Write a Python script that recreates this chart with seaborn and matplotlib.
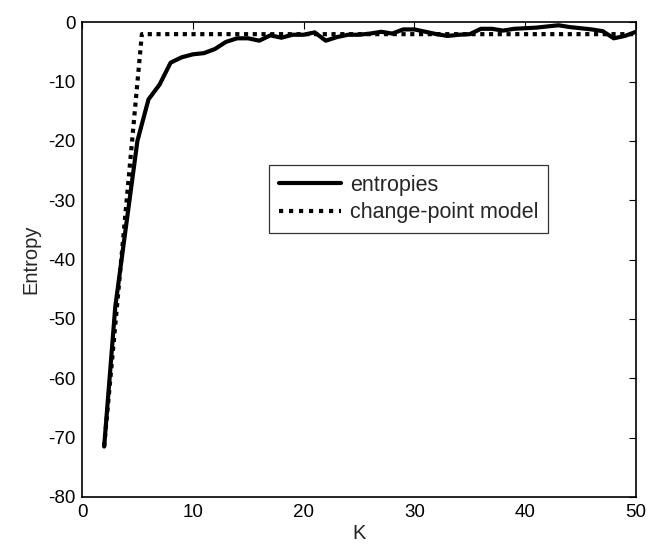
import numpy as np
import pandas as pd
import matplotlib
matplotlib.use("Agg")
import matplotlib.pyplot as plt
import seaborn as sns

K = list(range(2, 51))
entropies = [-71.5, -48.0, -34.0, -20.0, -13.0, -10.5, -6.8, -5.9, -5.4, -5.2,
             -4.5, -3.3, -2.7, -2.7, -3.1, -2.2, -2.6, -2.1, -2.1, -1.7,
             -3.1, -2.5, -2.1, -2.1, -1.9, -1.6, -1.9, -1.2, -1.2, -1.6,
             -2.0, -2.3, -2.1, -2.0, -1.1, -1.1, -1.4, -1.1, -1.0, -0.9,
             -0.7, -0.5, -0.8, -1.0, -1.2, -1.5, -2.7, -2.3, -1.6]
cp_K = [2, 5.4, 50]
cp_values = [-71.5, -2.0, -2.0]
x_ticks = [0, 10, 20, 30, 40, 50]
y_ticks = [-80, -70, -60, -50, -40, -30, -20, -10, 0]

sns.set_style("white")
plt.rcParams['font.family'] = ['Liberation Sans', 'DejaVu Sans']
plt.rcParams['axes.unicode_minus'] = False

fig = plt.figure(figsize=(6.56, 5.45), dpi=100)
ax = fig.add_axes([0.125, 0.0881, 0.8445, 0.8710])

df1 = pd.DataFrame({"K": K, "Entropy": entropies})
df2 = pd.DataFrame({"K": cp_K, "Entropy": cp_values})
sns.lineplot(data=df1, x="K", y="Entropy", ax=ax, color="black", lw=3,
             label="entropies")
sns.lineplot(data=df2, x="K", y="Entropy", ax=ax, color="black", lw=3,
             dashes=False, label="change-point model")
ax.lines[1].set_dashes((1, 1.1))
ax.lines[1].set_dash_capstyle("butt")

ax.set_xlim(0, 50)
ax.set_ylim(-80, 0)
ax.set_xticks(x_ticks)
ax.set_yticks(y_ticks)
ax.tick_params(direction="in", top=True, right=True, length=5, width=0.8,
               labelsize=13.5, colors="black")
ax.tick_params(axis="y", pad=4.5)
ax.tick_params(axis="x", pad=5)
for s in ax.spines.values():
    s.set_color("black")
    s.set_linewidth(1.2)
ax.set_xlabel("K", fontsize=14.5, labelpad=2)
ax.set_ylabel("Entropy", fontsize=14.5, labelpad=6)

leg = ax.legend(loc="upper left", bbox_to_anchor=(0.338, 0.699), fontsize=15.5,
                frameon=True, fancybox=False, edgecolor="black",
                handlelength=2.87, handletextpad=0.44, borderpad=0.45,
                labelspacing=0.3, borderaxespad=0)
leg.get_frame().set_linewidth(0.9)
for h in leg.get_lines():
    h.set_linewidth(3)
leg.get_lines()[1].set_dashes((1, 1.4))
leg.get_lines()[1].set_dash_capstyle("butt")

fig.savefig("out.png", dpi=100)
